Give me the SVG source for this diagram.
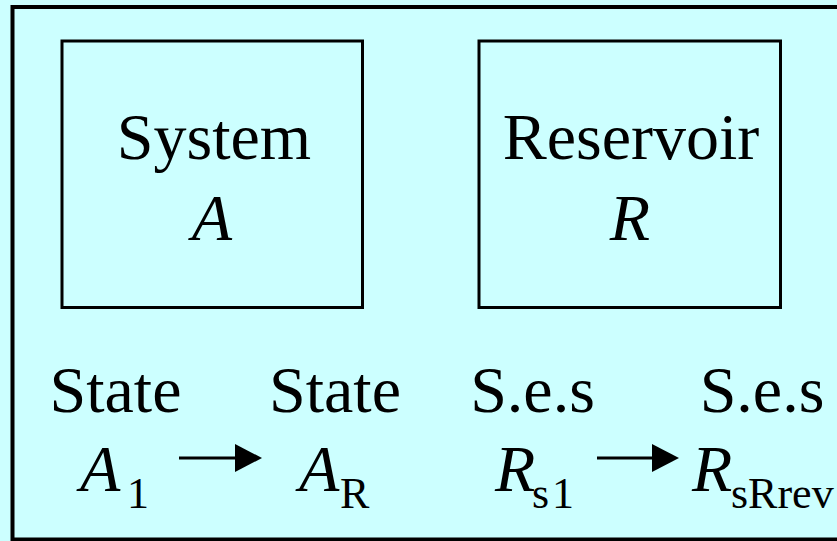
<svg xmlns="http://www.w3.org/2000/svg" width="837" height="541" viewBox="0 0 837 541">
<style>
text{font-family:'Liberation Serif','Times New Roman','DejaVu Serif',serif;fill:#000}
.t{font-size:66px}
.c{text-anchor:middle}
.i{font-style:italic}
.s{font-size:44px}
.box{fill:none;stroke:#000;stroke-width:3}
.ar{stroke:#000;stroke-width:3;fill:none}
</style>
<defs>
<marker id="ah" markerWidth="28" markerHeight="28" refX="0" refY="14" orient="auto" markerUnits="userSpaceOnUse">
<path d="M0,0 L27,14 L0,28 Z" fill="#000"/>
</marker>
</defs>
<rect width="837" height="541" fill="#CCFFFF"/>
<path id="frame" d="M845,7 H12.5 V539.5 H845" fill="none" stroke="#000" stroke-width="4"/>
<g id="system">
<rect class="box" x="62" y="41" width="300.5" height="266.5"/>
<text class="t c" x="214" y="159">System</text>
<text class="t c i" x="212" y="240">A</text>
</g>
<g id="reservoir">
<rect class="box" x="479" y="41" width="301.5" height="266.5"/>
<text class="t c" x="631" y="159">Reservoir</text>
<text class="t c i" x="630" y="240">R</text>
</g>
<g id="stateA1">
<text class="t c" x="115.5" y="411.5">State</text>
<text class="t i" x="80" y="491">A</text>
<text class="s" x="127" y="508">1</text>
</g>
<g id="stateAR">
<text class="t c" x="335" y="411.5">State</text>
<text class="t i" x="299" y="491">A</text>
<text class="s" x="340" y="508">R</text>
</g>
<g id="sesRs1">
<text class="t c" x="532.5" y="411.5">S.e.s</text>
<text class="t i" x="495" y="491">R</text>
<text class="s" x="532" y="508" letter-spacing="3">s1</text>
</g>
<g id="sesRsRrev">
<text class="t c" x="762" y="411.5">S.e.s</text>
<text class="t i" x="692" y="491">R</text>
<text class="s" x="731" y="508">sRrev</text>
</g>
<g id="connectors">
<line class="ar" x1="179" y1="458" x2="235" y2="458" marker-end="url(#ah)"/>
<line class="ar" x1="597" y1="458" x2="652" y2="458" marker-end="url(#ah)"/>
</g>
</svg>
